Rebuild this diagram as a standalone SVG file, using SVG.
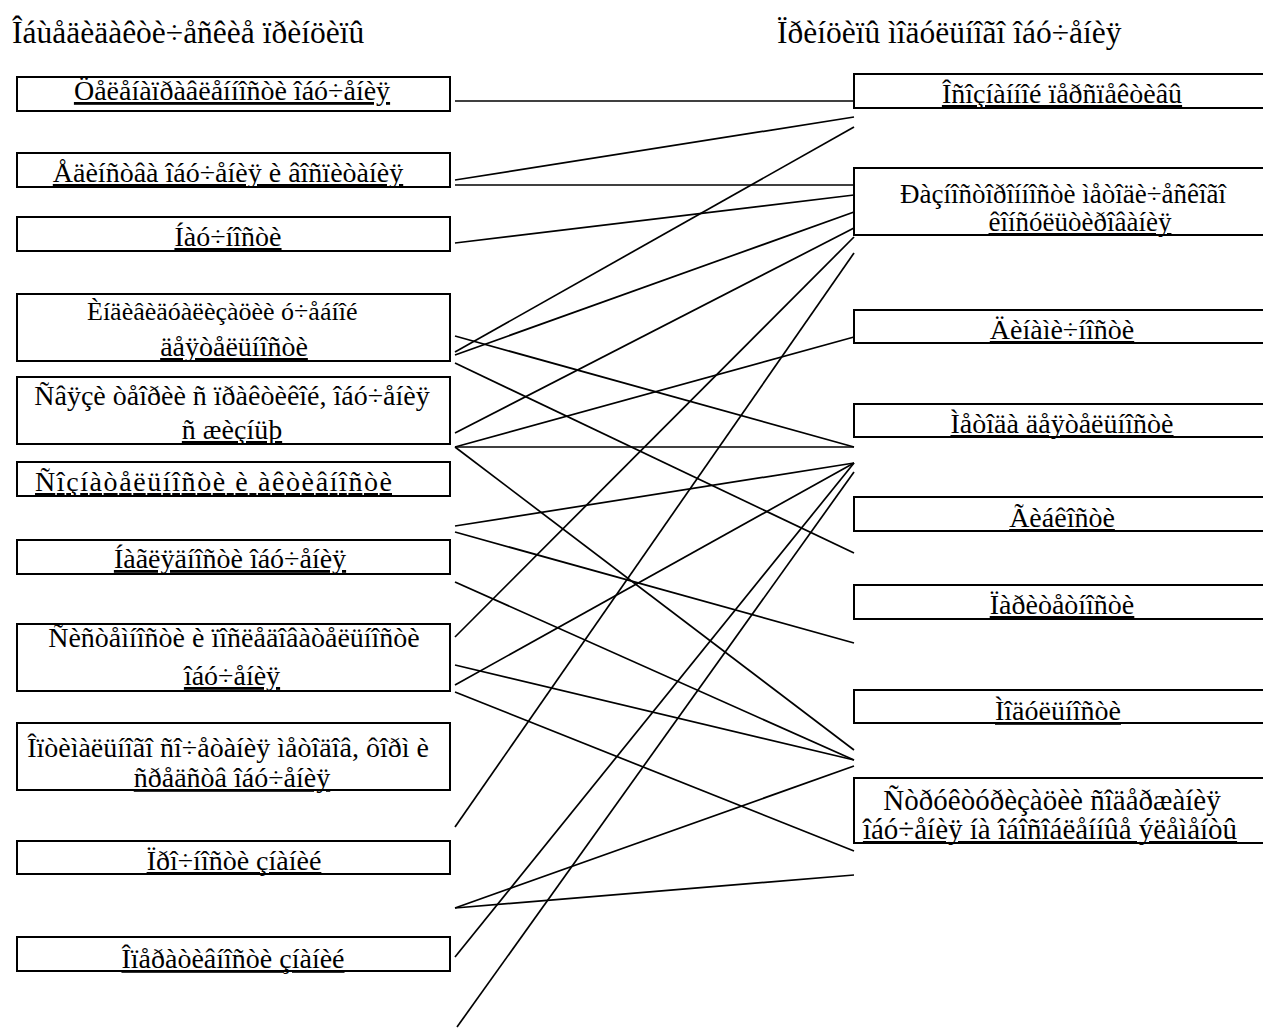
<svg xmlns="http://www.w3.org/2000/svg" width="1263" height="1028" viewBox="0 0 1263 1028">
<style>
.box{fill:#fff;stroke:#000;stroke-width:2}
.t{font-family:"Liberation Serif","Times New Roman",serif;font-size:28px;fill:#000;text-anchor:middle}
.s{text-anchor:start}
.u{text-decoration:underline}
.h{font-family:"Liberation Serif","Times New Roman",serif;font-size:31.5px;fill:#000}
.ln{stroke:#000;stroke-width:1.7;fill:none}
</style>
<rect width="1263" height="1028" fill="#fff"/>
<text class="h" x="12" y="43">Îáùåäèäàêòè÷åñêèå ïðèíöèïû</text>
<text class="h" x="777" y="43">Ïðèíöèïû ìîäóëüíîãî îáó÷åíèÿ</text>
<g id="connectors">
<line class="ln" x1="455" y1="101" x2="854" y2="101"/>
<line class="ln" x1="455" y1="180" x2="854" y2="117"/>
<line class="ln" x1="455" y1="185" x2="854" y2="185"/>
<line class="ln" x1="455" y1="243" x2="854" y2="195"/>
<line class="ln" x1="455" y1="352" x2="854" y2="127"/>
<line class="ln" x1="455" y1="355" x2="854" y2="212"/>
<line class="ln" x1="455" y1="433" x2="854" y2="228"/>
<line class="ln" x1="455" y1="637" x2="854" y2="237"/>
<line class="ln" x1="455" y1="827" x2="854" y2="253"/>
<line class="ln" x1="455" y1="336" x2="854" y2="447"/>
<line class="ln" x1="455" y1="363" x2="854" y2="553"/>
<line class="ln" x1="455" y1="447" x2="854" y2="447"/>
<line class="ln" x1="455" y1="447" x2="854" y2="337"/>
<line class="ln" x1="455" y1="447" x2="854" y2="750"/>
<line class="ln" x1="455" y1="526" x2="854" y2="463"/>
<line class="ln" x1="455" y1="532" x2="854" y2="643"/>
<line class="ln" x1="455" y1="582" x2="854" y2="760"/>
<line class="ln" x1="455" y1="665" x2="854" y2="760"/>
<line class="ln" x1="455" y1="685" x2="854" y2="463"/>
<line class="ln" x1="455" y1="692" x2="854" y2="851"/>
<line class="ln" x1="455" y1="908" x2="854" y2="766"/>
<line class="ln" x1="455" y1="908" x2="854" y2="875"/>
<line class="ln" x1="455" y1="957" x2="854" y2="463"/>
<line class="ln" x1="457" y1="1027" x2="854" y2="472"/>
</g>
<g id="L1"><rect class="box" x="17" y="77" width="433" height="34"/><text class="t u" x="232" y="100">Öåëåíàïðàâëåííîñòè  îáó÷åíèÿ</text></g>
<g id="L2"><rect class="box" x="17" y="153" width="433" height="34"/><text class="t u" x="228" y="182">Åäèíñòâà îáó÷åíèÿ è âîñïèòàíèÿ</text></g>
<g id="L3"><rect class="box" x="17" y="217" width="433" height="34"/><text class="t u" x="228" y="246">Íàó÷íîñòè</text></g>
<g id="L4"><rect class="box" x="17" y="294" width="433" height="67"/><text class="t s" x="87" y="320" style="font-size:26px">Èíäèâèäóàëèçàöèè ó÷åáíîé</text><text class="t u" x="234" y="356">äåÿòåëüíîñòè</text></g>
<g id="L5"><rect class="box" x="17" y="377" width="433" height="67"/><text class="t" x="232" y="405">Ñâÿçè òåîðèè ñ ïðàêòèêîé, îáó÷åíèÿ</text><text class="t u" x="232" y="439">ñ æèçíüþ</text></g>
<g id="L6"><rect class="box" x="17" y="462" width="433" height="34"/><text class="t s u" x="35" y="491" textLength="357" lengthAdjust="spacing">Ñîçíàòåëüíîñòè è àêòèâíîñòè</text></g>
<g id="L7"><rect class="box" x="17" y="540" width="433" height="34"/><text class="t u" x="230" y="568">Íàãëÿäíîñòè îáó÷åíèÿ</text></g>
<g id="L8"><rect class="box" x="17" y="624" width="433" height="67"/><text class="t" x="234" y="647">Ñèñòåìíîñòè è ïîñëåäîâàòåëüíîñòè</text><text class="t u" x="232" y="685">îáó÷åíèÿ</text></g>
<g id="L9"><rect class="box" x="17" y="723" width="433" height="67"/><text class="t" x="228" y="757">Îïòèìàëüíîãî ñî÷åòàíèÿ ìåòîäîâ, ôîðì è</text><text class="t u" x="232" y="787">ñðåäñòâ îáó÷åíèÿ</text></g>
<g id="L10"><rect class="box" x="17" y="841" width="433" height="33"/><text class="t u" x="234" y="870">Ïðî÷íîñòè çíàíèé</text></g>
<g id="L11"><rect class="box" x="17" y="937" width="433" height="34"/><text class="t u" x="233" y="968">Îïåðàòèâíîñòè çíàíèé</text></g>
<g id="R1"><rect class="box" x="854" y="74" width="420" height="34"/><text class="t u" x="1062" y="103">Îñîçíàííîé ïåðñïåêòèâû</text></g>
<g id="R2"><rect class="box" x="854" y="168" width="420" height="67"/><text class="t" x="1063" y="203" style="font-size:27px">Ðàçíîñòîðîííîñòè ìåòîäè÷åñêîãî</text><text class="t u" x="1080" y="231" style="font-size:27px">êîíñóëüòèðîâàíèÿ</text></g>
<g id="R3"><rect class="box" x="854" y="310" width="420" height="33"/><text class="t u" x="1062" y="339">Äèíàìè÷íîñòè</text></g>
<g id="R4"><rect class="box" x="854" y="404" width="420" height="33"/><text class="t u" x="1062" y="433">Ìåòîäà äåÿòåëüíîñòè</text></g>
<g id="R5"><rect class="box" x="854" y="497" width="420" height="34"/><text class="t u" x="1062" y="527">Ãèáêîñòè</text></g>
<g id="R6"><rect class="box" x="854" y="585" width="420" height="34"/><text class="t u" x="1062" y="614">Ïàðèòåòíîñòè</text></g>
<g id="R7"><rect class="box" x="854" y="690" width="420" height="33"/><text class="t u" x="1058" y="720">Ìîäóëüíîñòè</text></g>
<g id="R8"><rect class="box" x="854" y="778" width="420" height="65"/><text class="t" x="1052" y="810" style="font-size:29px">Ñòðóêòóðèçàöèè ñîäåðæàíèÿ</text><text class="t u" x="1050" y="839" style="font-size:29px">îáó÷åíèÿ íà îáîñîáëåííûå ýëåìåíòû</text></g>
</svg>
